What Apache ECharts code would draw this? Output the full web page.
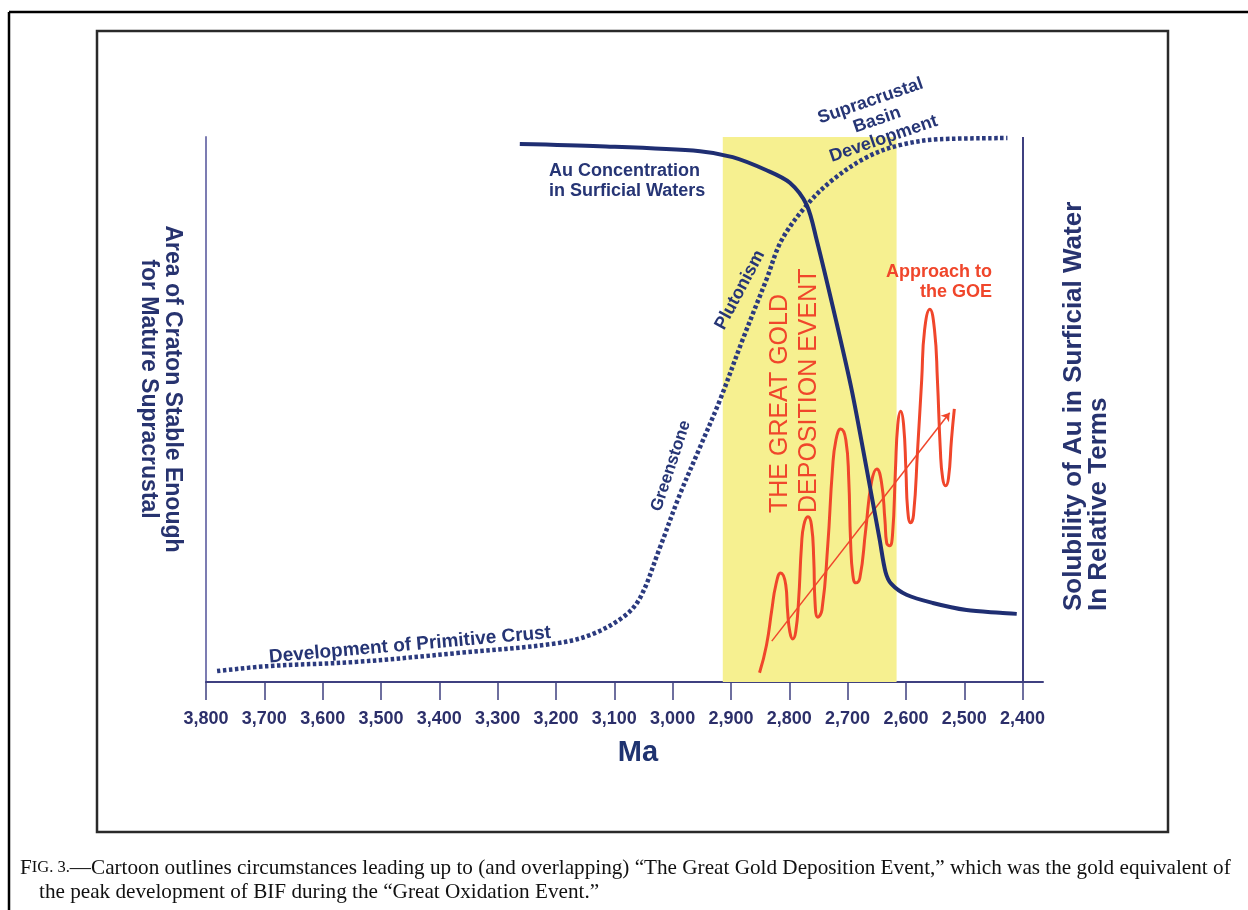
<!DOCTYPE html>
<html>
<head>
<meta charset="utf-8">
<script src="https://cdn.jsdelivr.net/npm/echarts@6/dist/echarts.min.js"></script>
<style>
html,body{margin:0;padding:0;background:#fff}
#chart{width:1248px;height:910px}
</style>
</head>
<body>
<div id="chart"></div>
<script>
// x axis: age in Ma (runs right to left), y: relative 0-100
const tickMa = [3800, 3700, 3600, 3500, 3400, 3300, 3200, 3100, 3000, 2900, 2800, 2700, 2600, 2500, 2400];

// dotted curve - area of stable craton
const crustMa  = [3781, 3695, 3541, 3370, 3205, 3142, 3085, 3056, 3022, 2988, 2953, 2919, 2880, 2839, 2813, 2770, 2726, 2667, 2611, 2542, 2426];
const crustVal = [2.0, 2.9, 3.7, 5.3, 7.0, 8.6, 11.9, 15.4, 24.6, 34.3, 43.1, 51.7, 62.8, 73.9, 81.1, 87.5, 92.1, 96.3, 98.5, 99.6, 99.8];

// solid curve - Au concentration in surficial waters
const auMa  = [3262, 3125, 2953, 2897, 2839, 2799, 2770, 2753, 2720, 2693, 2667, 2645, 2635, 2625, 2599, 2554, 2496, 2439, 2410];
const auVal = [98.7, 98.3, 97.4, 96.3, 93.9, 91.6, 87.5, 81.1, 66.4, 53.6, 38.9, 26.1, 20.2, 18.0, 16.0, 14.5, 13.2, 12.7, 12.5];

// red wiggle - gold deposition pulses
const goldMa  = [2851, 2839, 2830, 2823, 2815, 2806, 2803, 2799, 2794, 2789, 2784, 2779, 2775, 2768, 2762, 2758, 2756, 2751,
                 2744, 2734, 2726, 2720, 2712, 2703, 2698, 2695, 2691, 2686, 2679, 2669, 2659, 2650, 2642, 2636, 2633, 2628,
                 2623, 2618, 2614, 2609, 2604, 2600, 2597, 2592, 2587, 2580, 2573, 2568, 2559, 2551, 2546, 2541, 2537, 2532,
                 2527, 2522, 2517];
const goldVal = [1.7, 6.8, 13.2, 17.8, 20.0, 17.8, 13.2, 9.2, 7.9, 9.2, 15.0, 25.1, 28.8, 30.3, 28.8, 22.4, 15.0, 11.9,
                 13.2, 25.1, 38.9, 44.4, 46.4, 44.4, 37.1, 26.1, 19.6, 18.2, 19.1, 27.9, 36.7, 39.1, 36.7, 29.7, 25.5, 25.0,
                 27.0, 38.9, 47.2, 49.7, 47.2, 38.9, 31.6, 29.2, 30.6, 42.6, 55.4, 64.6, 68.4, 64.6, 55.4, 42.6, 37.4, 36.0,
                 37.4, 44.4, 50.1];

// trend arrow and event band
const arrowFrom = [2830, 7.5];
const arrowTo   = [2525, 49.4];
const bandMa    = [2914, 2616];

const navy = '#1f2e72';
const red = '#f0462b';

function zip(a, b) { return a.map((v, i) => [v, b[i]]); }

const chart = echarts.init(document.getElementById('chart'));

const option = {
    animation: false,
    backgroundColor: '#fff',
    grid: { left: 206, right: 205, top: 137, bottom: 228 },
    xAxis: {
        type: 'value',
        inverse: true,
        min: 2365,
        max: 3800,
        axisLine: { show: true, lineStyle: { color: '#3f4080', width: 2 } },
        axisTick: { show: true, customValues: tickMa, length: 18, lineStyle: { color: '#3f4080', width: 1.5 } },
        axisLabel: {
            customValues: tickMa,
            margin: 28,
            color: '#2c2f6a',
            fontFamily: 'Liberation Sans',
            fontWeight: 'bold',
            fontSize: 18,
            formatter: v => v.toLocaleString('en-US')
        },
        splitLine: { show: false }
    },
    yAxis: {
        type: 'value',
        min: 0,
        max: 100,
        axisLine: { show: true, lineStyle: { color: '#7c7cb2', width: 2 } },
        axisTick: { show: false },
        axisLabel: { show: false },
        splitLine: { show: false }
    },
    series: [
        {
            // yellow band + 2,400 frame line
            type: 'line',
            data: [],
            z: 1,
            markArea: {
                silent: true,
                itemStyle: { color: '#f6f090' },
                data: [[{ xAxis: bandMa[0] }, { xAxis: bandMa[1] }]]
            },
            markLine: {
                silent: true,
                symbol: 'none',
                label: { show: false },
                lineStyle: { color: '#3f4080', width: 2, type: 'solid' },
                data: [[{ coord: [2400, 0] }, { coord: [2400, 100] }]]
            }
        },
        {
            name: 'gold',
            type: 'line',
            data: zip(goldMa, goldVal),
            showSymbol: false,
            smooth: 0.5,
            z: 3,
            lineStyle: { color: red, width: 3 },
            markLine: {
                silent: true,
                symbol: ['none', 'arrow'],
                symbolSize: 8,
                label: { show: false },
                lineStyle: { color: red, width: 1.5, type: 'solid' },
                data: [[{ coord: arrowFrom }, { coord: arrowTo }]]
            }
        },
        {
            name: 'crust',
            type: 'line',
            data: zip(crustMa, crustVal),
            showSymbol: false,
            smooth: 0.35,
            z: 4,
            lineStyle: { color: '#2b3a7e', width: 4.5, type: [3.5, 2.5] }
        },
        {
            name: 'au',
            type: 'line',
            data: zip(auMa, auVal),
            showSymbol: false,
            smooth: 0.3,
            z: 5,
            lineStyle: { color: navy, width: 4 }
        }
    ],
    graphic: [
        // outer page frame
        { type: 'line', z: 100, shape: { x1: 9, y1: 12, x2: 1248, y2: 12 }, style: { stroke: '#000', lineWidth: 2.5 } },
        { type: 'line', z: 100, shape: { x1: 9, y1: 12, x2: 9, y2: 910 }, style: { stroke: '#000', lineWidth: 2.5 } },
        // figure box
        { type: 'rect', z: 100, shape: { x: 97, y: 31, width: 1071, height: 801 }, style: { fill: null, stroke: '#2a2a2a', lineWidth: 2.5 } },
        // axis titles
        {
            type: 'text', z: 100, x: 160, y: 389, rotation: -Math.PI / 2,
            style: { text: 'Area of Craton Stable Enough\nfor Mature Supracrustal', textAlign: 'center', textVerticalAlign: 'middle',
                font: 'bold 23px "Liberation Sans"', lineHeight: 24, fill: '#27336f' }
        },
        {
            type: 'text', z: 100, x: 1086, y: 611, rotation: Math.PI / 2,
            style: { text: 'Solubility of Au in Surficial Water\nIn Relative Terms', textAlign: 'left', textVerticalAlign: 'middle',
                font: 'bold 26px "Liberation Sans"', lineHeight: 25, fill: '#27336f' }
        },
        {
            type: 'text', z: 100, x: 638, y: 753,
            style: { text: 'Ma', textAlign: 'center', textVerticalAlign: 'middle', font: 'bold 29px "Liberation Sans"', fill: '#1f3370' }
        },
        // curve notes
        {
            type: 'text', z: 100, x: 549, y: 181,
            style: { text: 'Au Concentration\nin Surficial Waters', textAlign: 'left', textVerticalAlign: 'middle',
                font: 'bold 18px "Liberation Sans"', lineHeight: 20, fill: '#263575' }
        },
        {
            type: 'text', z: 100, x: 877, y: 120, rotation: 0.33,
            style: { text: 'Supracrustal\nBasin\nDevelopment', textAlign: 'center', textVerticalAlign: 'middle',
                font: 'bold 18px "Liberation Sans"', lineHeight: 20, fill: '#263575' }
        },
        {
            type: 'text', z: 100, x: 740, y: 290, rotation: 1.08,
            style: { text: 'Plutonism', textAlign: 'center', textVerticalAlign: 'middle',
                font: 'bold 18px "Liberation Sans"', fill: '#263575' }
        },
        {
            type: 'text', z: 100, x: 671, y: 466, rotation: 1.25,
            style: { text: 'Greenstone', textAlign: 'center', textVerticalAlign: 'middle',
                font: 'bold 17px "Liberation Sans"', fill: '#263575' }
        },
        {
            type: 'text', z: 100, x: 410, y: 645, rotation: 0.087,
            style: { text: 'Development of Primitive Crust', textAlign: 'center', textVerticalAlign: 'middle',
                font: 'bold 19px "Liberation Sans"', fill: '#263575' }
        },
        {
            type: 'text', z: 100, x: 795, y: 513, rotation: Math.PI / 2,
            style: { text: 'THE GREAT GOLD\nDEPOSITION EVENT', textAlign: 'left', textVerticalAlign: 'middle',
                font: '25px "Liberation Sans"', lineHeight: 29, fill: red }
        },
        {
            type: 'text', z: 100, x: 992, y: 282,
            style: { text: 'Approach to\nthe GOE', textAlign: 'right', textVerticalAlign: 'middle',
                font: 'bold 18px "Liberation Sans"', lineHeight: 20, fill: red }
        },
        // caption
        {
            type: 'text', z: 100, x: 20, y: 868,
            style: {
                text: '{a|F}{b|IG. 3.}{a|—Cartoon outlines circumstances leading up to (and overlapping) \u201cThe Great Gold Deposition Event,\u201d which was the gold equivalent of}',
                textVerticalAlign: 'middle',
                rich: {
                    a: { font: '21.2px "Liberation Serif"', fill: '#111' },
                    b: { font: '16.5px "Liberation Serif"', fill: '#111' }
                }
            }
        },
        {
            type: 'text', z: 100, x: 39, y: 892,
            style: { text: 'the peak development of BIF during the \u201cGreat Oxidation Event.\u201d', textVerticalAlign: 'middle',
                font: '21.2px "Liberation Serif"', fill: '#111' }
        }
    ]
};

chart.setOption(option);
</script>
</body>
</html>
